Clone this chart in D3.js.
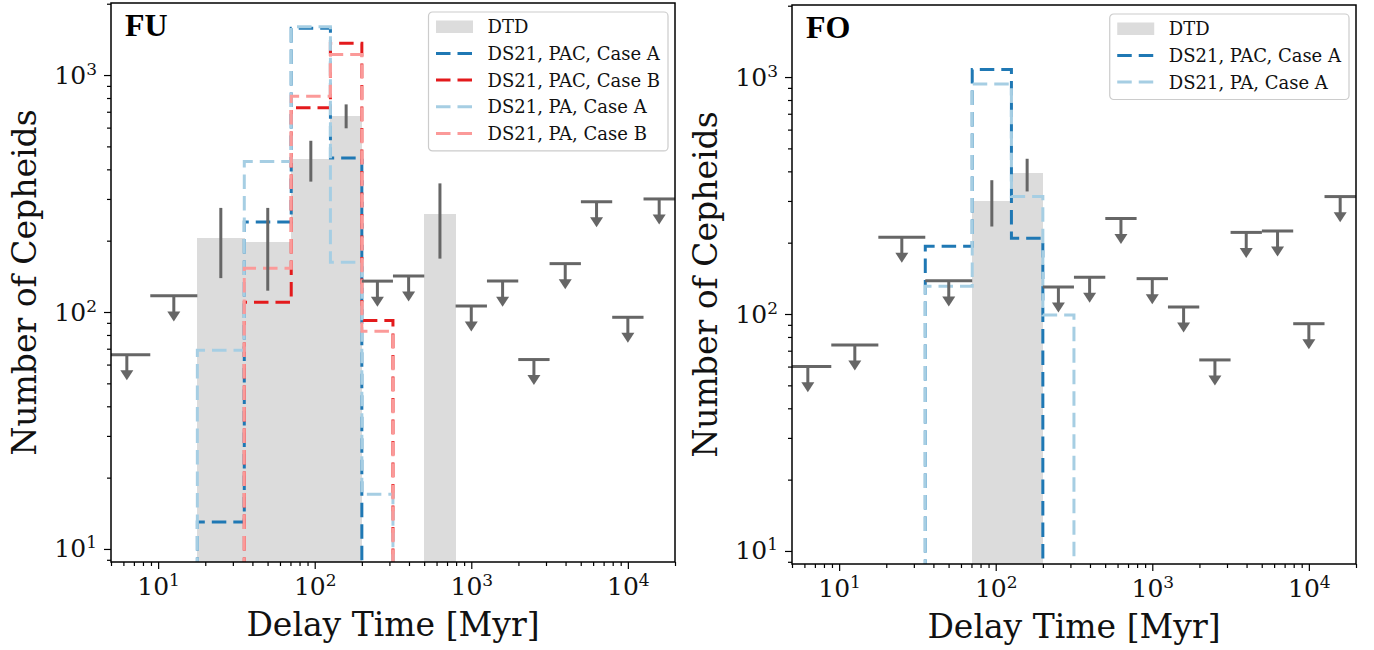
<!DOCTYPE html>
<html>
<head>
<meta charset="utf-8">
<script src="https://cdn.jsdelivr.net/npm/d3@7"></script>
<style>
  body { margin: 0; background: #fff; }
  svg { display: block; }
</style>
</head>
<body>
<div id="chart"></div>
<script>
const w = 1374;
const h = 650;

// delay time bin edges [Myr]  (log10: 0.65, 0.95, 1.25, 1.55, 1.85, 2.1, 2.3 ... 4.3)
const binEdges = [4.47, 8.91, 17.8, 35.5, 70.8, 126, 200, 316, 501, 794, 1259, 1995, 3162, 5012, 7943, 12589, 19953];

// FU panel
const fuDTD   = [null, null, 206, 198, 442, 673, null, null, 258, null, null, null, null, null, null, null];
const fuErrLo = [null, null, 139, 123, 355, 596, null, null, 168, null, null, null, null, null, null, null];
const fuErrHi = [null, null, 275, 275, 528, 752, null, null, 349, null, null, null, null, null, null, null];
const fuUpper = [66, 117, null, null, null, null, 135, 142, null, 106, 135, 63, 160, 292, 95, 300];
const fuPacA  = [0, 0, 13, 240, 1574, 447, 0, 0, 0, 0, 0, 0, 0, 0, 0, 0];
const fuPacB  = [0, 0, 0, 110, 728, 1361, 92, 0, 0, 0, 0, 0, 0, 0, 0, 0];
const fuPaA   = [0, 0, 69, 432, 1600, 162, 17, 0, 0, 0, 0, 0, 0, 0, 0, 0];
const fuPaB   = [0, 0, 0, 153, 813, 1222, 83, 0, 0, 0, 0, 0, 0, 0, 0, 0];

// FO panel
const foDTD   = [null, null, null, null, 301, 392, null, null, null, null, null, null, null, null, null, null];
const foErrLo = [null, null, null, null, 234, 329, null, null, null, null, null, null, null, null, null, null];
const foErrHi = [null, null, null, null, 367, 452, null, null, null, null, null, null, null, null, null, null];
const foUpper = [60, 74, 211, 138, null, null, 130, 143, 253, 141, 107, 64, 221, 224, 91, 313];
const foPacA  = [0, 0, 0, 193, 1076, 209, 0, 0, 0, 0, 0, 0, 0, 0, 0, 0];
const foPaA   = [0, 0, 0, 131, 935, 313, 99, 0, 0, 0, 0, 0, 0, 0, 0, 0];

const xTicks = [10, 100, 1000, 10000];
const yTicks = [10, 100, 1000];

const xDomain = [5, 20000];
const yDomain = [8.81, 2014];

const plotW = 564;
const plotH = 559;
const serif = '"DejaVu Serif", serif';

const colors = {
    pacA: '#1f78b4',
    pacB: '#e31a1c',
    paA: '#a6cee3',
    paB: '#fb9a99',
    dtd: '#dcdcdc',
    err: '#666666'
};

const svg = d3.select('#chart').append('svg').attr('width', w).attr('height', h);
svg.append('rect').attr('width', w).attr('height', h).attr('fill', '#fff');

const minorTicks = (domain) => {
    const out = [];
    for (let k = -1; k <= 5; k++) {
        for (let m = 2; m <= 9; m++) {
            const v = m * Math.pow(10, k);
            if (v >= domain[0] && v <= domain[1]) out.push(v);
        }
    }
    return out;
};

const powLabel = (sel) => {
    sel.selectAll('.tick text').each(function (d) {
        const t = d3.select(this);
        t.text(null);
        t.append('tspan').text('10');
        t.append('tspan').attr('dy', -9).attr('font-size', 17).text(Math.round(Math.log10(d)));
    });
};

const drawPanel = (p) => {
    const g = svg.append('g').attr('transform', `translate(${p.left},${p.top})`);
    const x = d3.scaleLog().domain(xDomain).range([0, plotW]);
    const y = d3.scaleLog().domain(yDomain).range([plotH, 0]);

    g.append('clipPath').attr('id', 'clip-' + p.name)
        .append('rect').attr('width', plotW).attr('height', plotH);
    const plot = g.append('g').attr('clip-path', `url(#clip-${p.name})`);

    const bins = d3.range(binEdges.length - 1).map(i => ({
        x0: binEdges[i],
        x1: binEdges[i + 1],
        mid: Math.sqrt(binEdges[i] * binEdges[i + 1]),
        dtd: p.dtd[i],
        lo: p.errLo[i],
        hi: p.errHi[i],
        ul: p.upper[i]
    }));

    // DTD bars
    plot.selectAll('rect.dtd')
        .data(bins.filter(d => d.dtd))
        .enter()
        .append('rect')
        .attr('class', 'dtd')
        .attr('x', d => x(d.x0))
        .attr('width', d => x(d.x1) - x(d.x0) + 0.5)
        .attr('y', d => y(d.dtd))
        .attr('height', d => plotH - y(d.dtd))
        .attr('shape-rendering', 'crispEdges')
        .attr('fill', colors.dtd);

    // model step histograms
    const yPos = v => v > 0 ? y(v) : plotH + 10;
    const line = d3.line().x(d => x(d[0])).y(d => yPos(d[1]));
    p.series.forEach(s => {
        const first = s.values.findIndex(v => v > 0);
        let last = s.values.length - 1;
        while (last > 0 && !(s.values[last] > 0)) last--;
        const pts = [[binEdges[first], 0]];
        for (let i = first; i <= last; i++) {
            pts.push([binEdges[i], s.values[i]]);
            pts.push([binEdges[i + 1], s.values[i]]);
        }
        pts.push([binEdges[last + 1], 0]);
        plot.append('path')
            .attr('d', line(pts))
            .attr('fill', 'none')
            .attr('stroke', s.color)
            .attr('stroke-width', 3)
            .attr('stroke-dasharray', '14.5 7');
    });

    // error bars
    plot.selectAll('line.err')
        .data(bins.filter(d => d.dtd))
        .enter()
        .append('line')
        .attr('x1', d => x(d.mid)).attr('x2', d => x(d.mid))
        .attr('y1', d => y(d.hi)).attr('y2', d => y(d.lo))
        .attr('stroke', colors.err)
        .attr('stroke-width', 3);

    // upper limits
    const ul = plot.selectAll('g.ul')
        .data(bins.filter(d => d.ul))
        .enter()
        .append('g');
    ul.append('line')
        .attr('x1', d => x(d.x0)).attr('x2', d => x(d.x1))
        .attr('y1', d => y(d.ul)).attr('y2', d => y(d.ul))
        .attr('stroke', colors.err).attr('stroke-width', 3);
    ul.append('line')
        .attr('x1', d => x(d.mid)).attr('x2', d => x(d.mid))
        .attr('y1', d => y(d.ul)).attr('y2', d => y(d.ul * 0.78) - 8)
        .attr('stroke', colors.err).attr('stroke-width', 3);
    ul.append('path')
        .attr('d', d => {
            const cx = x(d.mid);
            const tip = y(d.ul * 0.78);
            return `M${cx - 6.5},${tip - 10}L${cx + 6.5},${tip - 10}L${cx},${tip}Z`;
        })
        .attr('fill', colors.err);

    // axes
    const xg = g.append('g').attr('transform', `translate(0,${plotH})`)
        .call(d3.axisBottom(x).tickValues(xTicks).tickSize(7).tickPadding(8).tickFormat(() => ''));
    const xm = g.append('g').attr('transform', `translate(0,${plotH})`)
        .call(d3.axisBottom(x).tickValues(minorTicks(xDomain)).tickSize(4).tickFormat(() => ''));
    const yg = g.append('g')
        .call(d3.axisLeft(y).tickValues(yTicks).tickSize(7).tickPadding(7).tickFormat(() => ''));
    const ym = g.append('g')
        .call(d3.axisLeft(y).tickValues(minorTicks(yDomain)).tickSize(4).tickFormat(() => ''));
    [xg, xm, yg, ym].forEach(a => {
        a.attr('font-family', serif).attr('font-size', 25);
        a.select('.domain').remove();
        a.selectAll('.tick line').attr('stroke', '#000').attr('stroke-width', 1.2);
    });
    powLabel(xg);
    powLabel(yg);
    xg.selectAll('.tick text').attr('fill', '#111');
    yg.selectAll('.tick text').attr('fill', '#111');

    g.append('rect')
        .attr('width', plotW).attr('height', plotH)
        .attr('fill', 'none').attr('stroke', '#000').attr('stroke-width', 1.5);

    g.append('text')
        .attr('x', plotW / 2).attr('y', plotH + 74)
        .attr('text-anchor', 'middle')
        .attr('font-family', serif).attr('font-size', 33).attr('fill', '#111')
        .text('Delay Time [Myr]');
    g.append('text')
        .attr('transform', `translate(-75,${plotH / 2}) rotate(-90)`)
        .attr('text-anchor', 'middle')
        .attr('font-family', serif).attr('font-size', 33).attr('fill', '#111')
        .text('Number of Cepheids');

    g.append('text')
        .attr('x', 14).attr('y', 33)
        .attr('font-family', '"Liberation Serif", serif').attr('font-weight', 'bold').attr('font-size', 32)
        .text(p.name);

    // legend
    const entries = [{ label: 'DTD', patch: true }].concat(p.series);
    const lg = g.append('g');
    const box = lg.append('rect')
        .attr('rx', 4).attr('ry', 4)
        .attr('fill', '#fff').attr('fill-opacity', 0.85)
        .attr('stroke', '#cccccc').attr('stroke-width', 1.2);
    const rowH = 26.7;
    const rows = lg.selectAll('g.row')
        .data(entries)
        .enter()
        .append('g')
        .attr('transform', (d, i) => `translate(0,${14.7 + i * rowH})`);
    rows.filter(d => d.patch).append('rect')
        .attr('x', 7.5).attr('y', -6.2).attr('width', 37).attr('height', 12.5)
        .attr('fill', colors.dtd);
    rows.filter(d => !d.patch).append('line')
        .attr('x1', 7.5).attr('x2', 44.5)
        .attr('stroke', d => d.color).attr('stroke-width', 3)
        .attr('stroke-dasharray', '14.5 7');
    rows.append('text')
        .attr('x', 59).attr('y', 6.5)
        .attr('font-family', serif).attr('font-size', 18).attr('fill', '#111')
        .text(d => d.label);
    let tw = 0;
    rows.selectAll('text').each(function () { tw = Math.max(tw, this.getComputedTextLength()); });
    const boxW = 59 + tw + 8;
    const boxH = 14.7 + (entries.length - 1) * rowH + 17.4;
    box.attr('width', boxW).attr('height', boxH);
    lg.attr('transform', `translate(${plotW - 7 - boxW},9)`);
};

drawPanel({
    name: 'FU',
    left: 111,
    top: 3,
    dtd: fuDTD,
    errLo: fuErrLo,
    errHi: fuErrHi,
    upper: fuUpper,
    series: [
        { label: 'DS21, PAC, Case A', color: colors.pacA, values: fuPacA },
        { label: 'DS21, PAC, Case B', color: colors.pacB, values: fuPacB },
        { label: 'DS21, PA, Case A', color: colors.paA, values: fuPaA },
        { label: 'DS21, PA, Case B', color: colors.paB, values: fuPaB }
    ]
});

drawPanel({
    name: 'FO',
    left: 792,
    top: 5,
    dtd: foDTD,
    errLo: foErrLo,
    errHi: foErrHi,
    upper: foUpper,
    series: [
        { label: 'DS21, PAC, Case A', color: colors.pacA, values: foPacA },
        { label: 'DS21, PA, Case A', color: colors.paA, values: foPaA }
    ]
});
</script>
</body>
</html>
